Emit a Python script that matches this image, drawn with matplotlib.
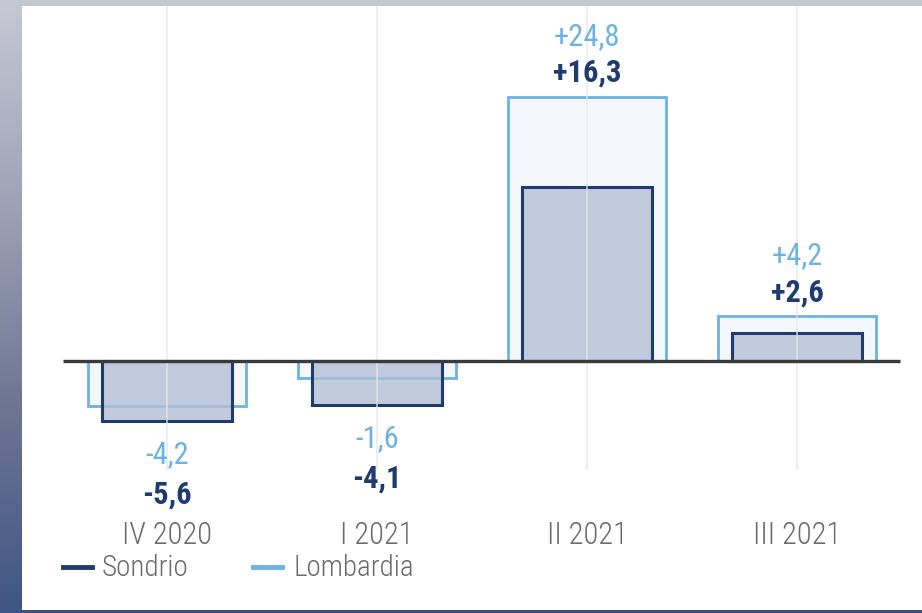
import numpy as np
import matplotlib
matplotlib.use("Agg")
import matplotlib.pyplot as plt
from matplotlib import font_manager as fm
from matplotlib.colors import LinearSegmentedColormap
from matplotlib.lines import Line2D

categories = ["IV 2020", "I 2021", "II 2021", "III 2021"]
sondrio = [-5.6, -4.1, 16.3, 2.6]
lombardia = [-4.2, -1.6, 24.8, 4.2]
sondrio_labels = ["-5,6", "-4,1", "+16,3", "+2,6"]
lombardia_labels = ["-4,2", "-1,6", "+24,8", "+4,2"]

names = {f.name for f in fm.fontManager.ttflist}
cands = ["Roboto Condensed", "Liberation Sans Narrow", "Open Sans Condensed"]
chosen = next((c for c in cands if c in names), "DejaVu Sans")
FONT = [chosen, "DejaVu Sans"]
plt.rcParams["font.family"] = FONT

NAVY = "#1f3c70"
LIGHT = "#6db3e2"
GRAY = "#6a6a6a"
W, H = 922, 613
fig = plt.figure(figsize=(W / 100, H / 100), dpi=100)
fig.patch.set_facecolor("white")

bg = fig.add_axes([0, 0, 1, 1], zorder=-10)
bg.set_xlim(0, W)
bg.set_ylim(H, 0)
bg.axis("off")
cmap = LinearSegmentedColormap.from_list(
    "strip", ["#c6c8d3", "#9ea2b6", "#6e7593", "#3f5585"])
grad = np.linspace(0, 1, 256).reshape(-1, 1)
bg.imshow(grad, cmap=cmap, extent=(0, 21, H, 0), aspect="auto")
bg.add_patch(plt.Rectangle((0, 0), W, 6, color="#c4c6d0", lw=0))
bg.add_patch(plt.Rectangle((21, 610), W - 21, 3, color="#3b5282", lw=0))

x0, x1 = 21, 922
y0, y1 = 6, 610
ax = fig.add_axes([x0 / W, 1 - y1 / H, (x1 - x0) / W, (y1 - y0) / H])
ax.set_facecolor("none")
pxu = 210.0
cx0 = 167
ax.set_xlim((x0 - cx0) / pxu, (x1 - cx0) / pxu)
vs = 10.65
zero_y = 361
ax.set_ylim(-(y1 - zero_y) / vs, (zero_y - y0) / vs)
ax.axis("off")

x = np.arange(len(categories))

grid_bottom = -(470 - zero_y) / vs
ax.vlines(x, grid_bottom, ax.get_ylim()[1], color="#e6e6ea", lw=1.2, zorder=4, alpha=0.8)

ax.bar(x, lombardia, width=0.757, color="#f4f8fd", edgecolor=LIGHT, linewidth=2.0, zorder=2)
ax.bar(x, sondrio, width=0.62, color=(0.70, 0.75, 0.83, 0.8), edgecolor=NAVY, linewidth=2.2, zorder=3)

ax.hlines(0, (63 - cx0) / pxu, (900 - cx0) / pxu, color="#3a3a3a", lw=2.4, zorder=5)

for i in range(len(categories)):
    if lombardia[i] >= 0:
        top = max(lombardia[i], sondrio[i])
        ax.annotate(sondrio_labels[i], (x[i], top), xytext=(0, 15), textcoords="offset pixels",
                    ha="center", va="baseline", fontsize=22, fontweight="bold", color=NAVY, zorder=6)
        ax.annotate(lombardia_labels[i], (x[i], top), xytext=(0, 52), textcoords="offset pixels",
                    ha="center", va="baseline", fontsize=22, color=LIGHT, zorder=6)
    else:
        bot = min(lombardia[i], sondrio[i])
        ax.annotate(lombardia_labels[i], (x[i], bot), xytext=(0, -19), textcoords="offset pixels",
                    ha="center", va="top", fontsize=22, color=LIGHT, zorder=6)
        ax.annotate(sondrio_labels[i], (x[i], bot), xytext=(0, -59), textcoords="offset pixels",
                    ha="center", va="top", fontsize=22, fontweight="bold", color=NAVY, zorder=6)

for i, c in enumerate(categories):
    fx = (cx0 + i * pxu) / W
    fig.text(fx, 1 - 544 / H, c, ha="center", va="baseline", fontsize=22,
             fontweight="light", color=GRAY)

legend_items = [("Sondrio", NAVY, 63, 92, 102), ("Lombardia", LIGHT, 253, 282, 293)]
for name, col, lx0, lx1, tx in legend_items:
    fig.add_artist(Line2D([lx0 / W, lx1 / W], [1 - 567 / H, 1 - 567 / H],
                          color=col, lw=3.5, transform=fig.transFigure))
    fig.text(tx / W, 1 - 576 / H, name, ha="left", va="baseline", fontsize=21,
             fontweight="light", color=GRAY)

fig.savefig("out.png", dpi=100, facecolor="white")
